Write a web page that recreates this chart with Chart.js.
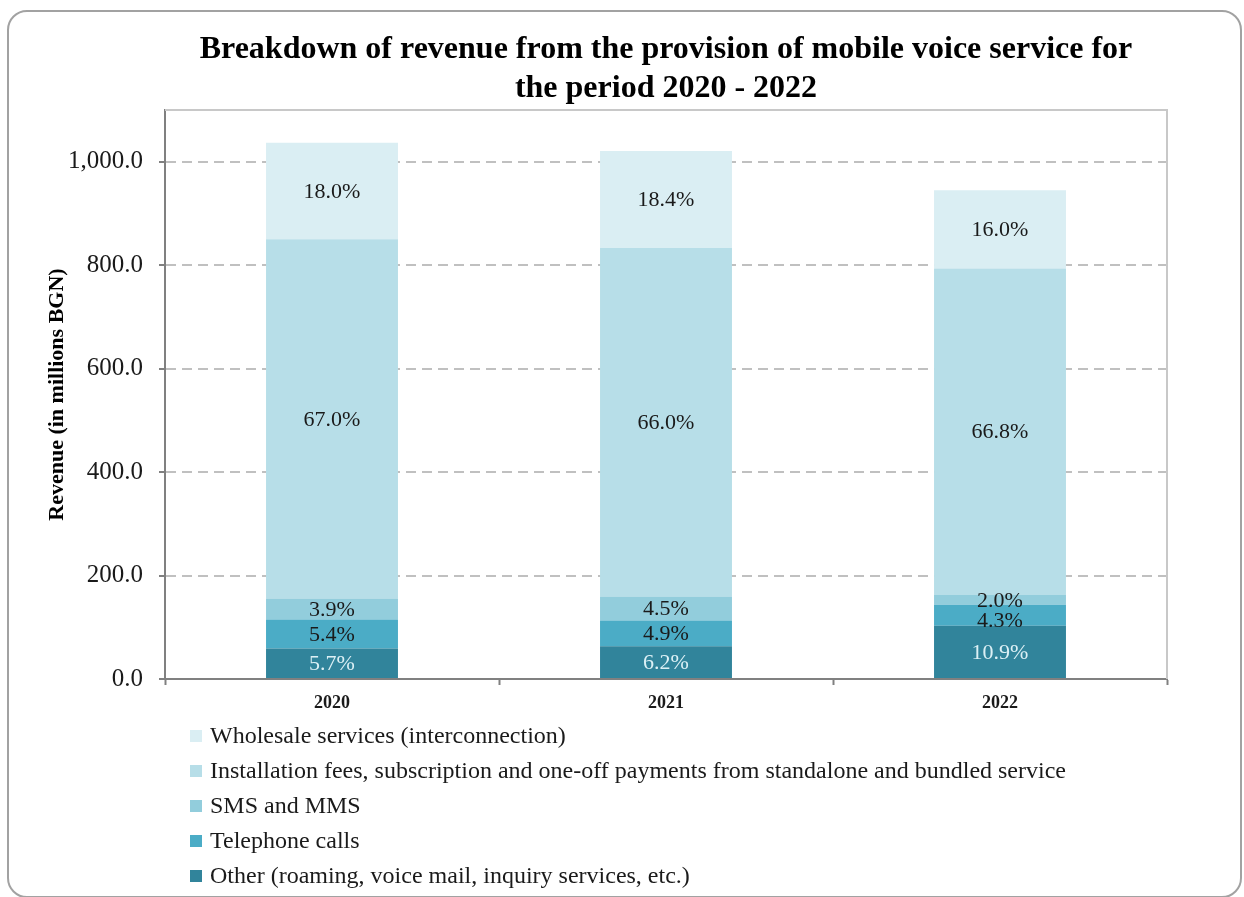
<!DOCTYPE html>
<html>
<head>
<meta charset="utf-8">
<title>Mobile voice service revenue 2020 - 2022</title>
<script src="https://cdn.jsdelivr.net/npm/chart.js@4.4.1/dist/chart.umd.min.js"></script>
<style>
  body { margin: 0; background: #fff; }
  #frame {
    position: absolute; left: 7px; top: 10px;
    width: 1231px; height: 884px;
    border: 2px solid #a2a2a2; border-radius: 20px;
  }
  #wrap { position: absolute; left: 0; top: 0; width: 1244px; height: 720px; }
  #legend {
    position: absolute; left: 190px; top: 718px;
    font-family: 'Liberation Serif', 'Times New Roman', serif;
    font-size: 24px; color: #1a1a1a;
  }
  #legend div { height: 35px; line-height: 35px; white-space: nowrap; }
  #legend span {
    display: inline-block; width: 12px; height: 12px;
    margin-right: 8px; vertical-align: 1px;
  }
</style>
</head>
<body>
<div id="frame"></div>
<div id="wrap"><canvas id="revenueChart"></canvas></div>
<div id="legend"></div>

<script>
const serif = "'Liberation Serif', 'Times New Roman', serif";

// Total revenue per year, millions BGN
const years = ['2020', '2021', '2022'];
const totals = [1037, 1021, 945];

// Share of each revenue stream in the yearly total, %
const otherShare = [5.7, 6.2, 10.9];
const callsShare = [5.4, 4.9, 4.3];
const smsShare = [3.9, 4.5, 2.0];
const installShare = [67.0, 66.0, 66.8];
const wholesaleShare = [18.0, 18.4, 16.0];

const yTicks = [0, 200, 400, 600, 800, 1000];

const series = [
  { label: 'Other (roaming, voice mail, inquiry services, etc.)', share: otherShare, color: '#31849b', text: '#dcf0f5' },
  { label: 'Telephone calls', share: callsShare, color: '#4bacc6', text: '#1a1a1a' },
  { label: 'SMS and MMS', share: smsShare, color: '#92cddc', text: '#1a1a1a' },
  { label: 'Installation fees, subscription and one-off payments from standalone and bundled service', share: installShare, color: '#b7dee8', text: '#1a1a1a' },
  { label: 'Wholesale services (interconnection)', share: wholesaleShare, color: '#daeef3', text: '#1a1a1a' }
];

const datasets = series.map(s => ({
  label: s.label,
  data: s.share.map((p, i) => p / 100 * totals[i]),
  share: s.share,
  textColor: s.text,
  backgroundColor: s.color,
  borderWidth: 0,
  categoryPercentage: 1,
  barPercentage: 0.395
}));

// light frame round the plot area (top and right sides)
const plotFrame = {
  id: 'plotFrame',
  beforeDatasetsDraw(chart) {
    const { ctx, chartArea: a } = chart;
    ctx.save();
    ctx.strokeStyle = '#c8c8c8';
    ctx.lineWidth = 2;
    ctx.beginPath();
    ctx.moveTo(a.left, a.top);
    ctx.lineTo(a.right, a.top);
    ctx.lineTo(a.right, a.bottom);
    ctx.stroke();
    ctx.restore();
  }
};

// percentage labels in the middle of each segment,
// nudged down when two thin segments would make them collide
const shareLabels = {
  id: 'shareLabels',
  afterDatasetsDraw(chart) {
    const ctx = chart.ctx;
    const minGap = 20;
    ctx.save();
    ctx.font = '22px ' + serif;
    ctx.textAlign = 'center';
    ctx.textBaseline = 'middle';
    chart.data.labels.forEach((_, i) => {
      let prevY = -Infinity;
      for (let di = chart.data.datasets.length - 1; di >= 0; di--) {
        const ds = chart.data.datasets[di];
        const bar = chart.getDatasetMeta(di).data[i];
        let y = (bar.y + bar.base) / 2 + 1;
        if (y - prevY < minGap) y = prevY + minGap;
        prevY = y;
        ctx.fillStyle = ds.textColor;
        ctx.fillText(ds.share[i].toFixed(1) + '%', bar.x, y);
      }
    });
    ctx.restore();
  }
};

const chart = new Chart(document.getElementById('revenueChart').getContext('2d'), {
  type: 'bar',
  data: { labels: years, datasets },
  plugins: [plotFrame, shareLabels],
  options: {
    responsive: true,
    maintainAspectRatio: false,
    animation: false,
    layout: { padding: { left: 0, right: 77, top: 0, bottom: 0 } },
    plugins: {
      legend: { display: false },
      tooltip: { enabled: false },
      title: {
        display: true,
        fullSize: false,
        text: ['Breakdown of revenue from the provision of mobile voice service for', 'the period 2020 - 2022'],
        color: '#000',
        font: { family: serif, size: 32, weight: 'bold', lineHeight: 1.22 },
        padding: { top: 30, bottom: 2 }
      }
    },
    scales: {
      x: {
        stacked: true,
        afterFit(scale) { scale.height = 41; },
        grid: { offset: true, drawOnChartArea: false, tickLength: 6, tickColor: '#808080', tickWidth: 2 },
        border: { color: '#808080', width: 2 },
        ticks: { color: '#1a1a1a', padding: 8, font: { family: serif, size: 18, weight: 'bold' } }
      },
      y: {
        stacked: true,
        min: 0,
        max: 1100,
        afterFit(scale) { scale.width = 165; },
        afterBuildTicks(scale) { scale.ticks = yTicks.map(v => ({ value: v })); },
        grid: { color: '#c0c0c0', lineWidth: 2, tickLength: 6, tickColor: '#808080', tickWidth: 2, tickBorderDash: [] },
        border: { color: '#808080', width: 2, dash: [10, 6] },
        ticks: {
          color: '#1a1a1a',
          padding: 16,
          font: { family: serif, size: 25 },
          callback: v => v.toLocaleString('en-US', { minimumFractionDigits: 1, maximumFractionDigits: 1 })
        },
        title: {
          display: true,
          text: 'Revenue (in millions BGN)',
          color: '#000',
          font: { family: serif, size: 22, weight: 'bold' },
          padding: { top: 44, bottom: 0 }
        }
      }
    }
  }
});

// legend, top entry first
const legend = document.getElementById('legend');
series.slice().reverse().forEach(s => {
  const row = document.createElement('div');
  const box = document.createElement('span');
  box.style.background = s.color;
  row.appendChild(box);
  row.appendChild(document.createTextNode(s.label));
  legend.appendChild(row);
});
</script>
</body>
</html>
